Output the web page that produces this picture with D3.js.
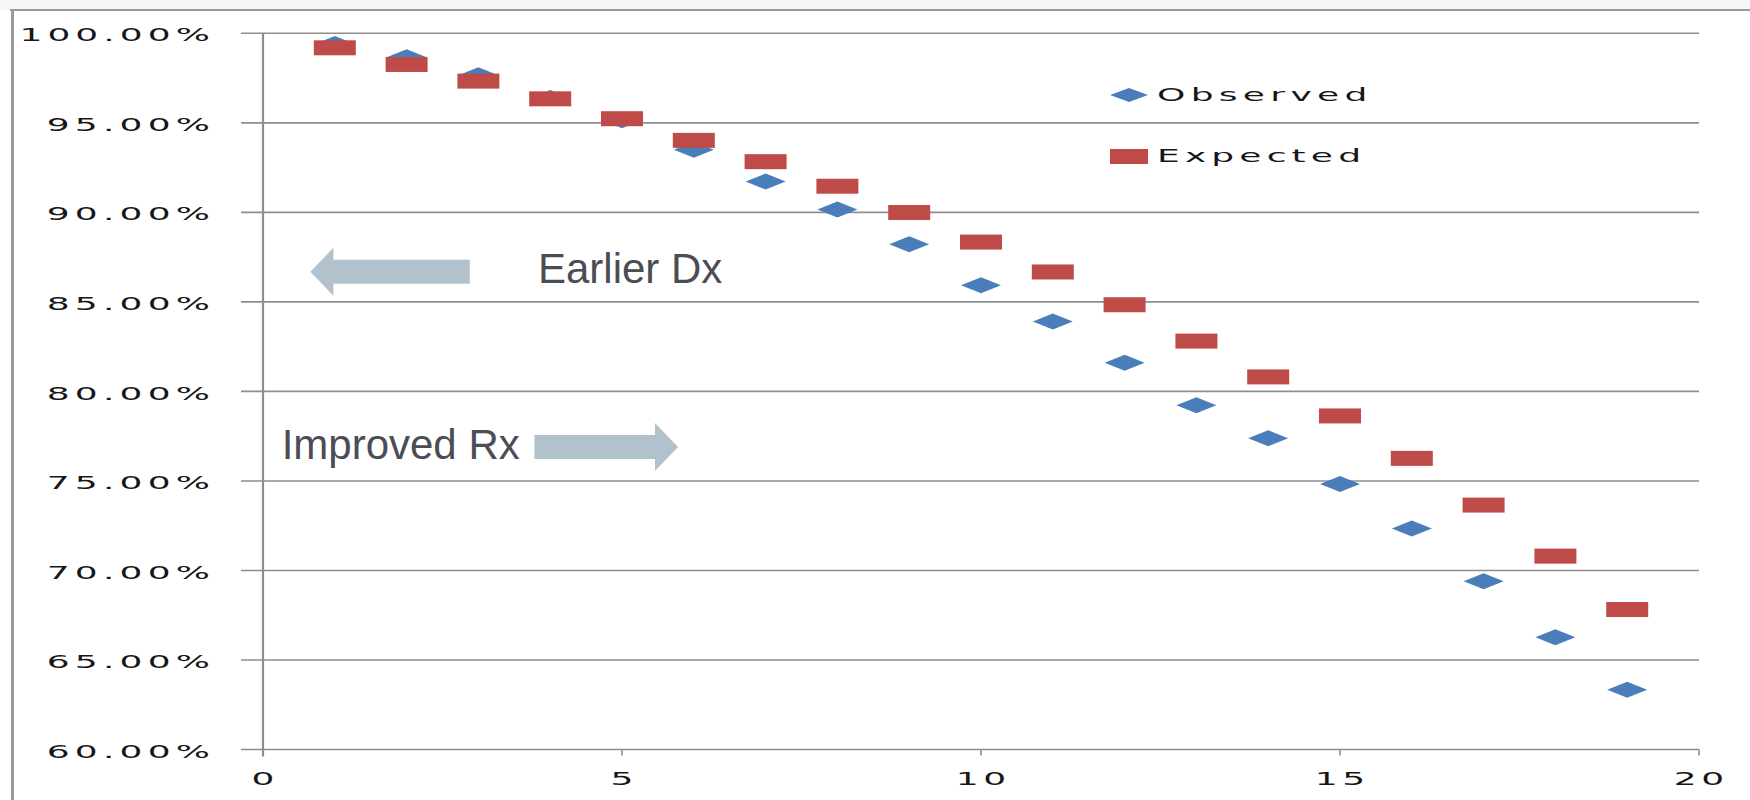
<!DOCTYPE html>
<html>
<head>
<meta charset="utf-8">
<script src="https://cdn.jsdelivr.net/npm/d3@7"></script>
<style>
  html, body { margin: 0; padding: 0; background: #fff; }
  svg { display: block; }
</style>
</head>
<body>
<div id="chart"></div>
<script>
// chart values
var xValues = [1, 2, 3, 4, 5, 6, 7, 8, 9, 10, 11, 12, 13, 14, 15, 16, 17, 18, 19];
var observed = [99.40, 98.66, 97.66, 96.39, 95.14, 93.50, 91.72, 90.16, 88.22, 85.93,
                83.91, 81.60, 79.22, 77.38, 74.83, 72.34, 69.40, 66.27, 63.34];
var expected = [99.19, 98.26, 97.33, 96.34, 95.23, 94.02, 92.83, 91.46, 89.99, 88.34,
                86.67, 84.84, 82.81, 80.81, 78.63, 76.26, 73.65, 70.80, 67.82];
var xTicks = [0, 5, 10, 15, 20];
var yTicks = [60, 65, 70, 75, 80, 85, 90, 95, 100];
var seriesNames = ["Observed", "Expected"];

// annotation arrows, in data units: [from x, to x, y]
var arrowNotes = [
    {from: 2.88, to: 0.66, y: 86.68},
    {from: 3.78, to: 5.78, y: 76.89}
];
var textNotes = [
    {text: "Earlier Dx", x: 3.83, y: 86.07},
    {text: "Improved Rx", x: 0.26, y: 76.24}
];

var width = 1750,
    height = 800,
    blue = "#4a7ebb",
    red = "#be4b48",
    gridColor = "#8e8e8e",
    labelFont = "'DejaVu Sans', Verdana, sans-serif",
    squeeze = 2.0;

var svg = d3.select("#chart").append("svg")
    .attr("width", width)
    .attr("height", height);

// outer frame
svg.append("rect")
    .attr("width", width)
    .attr("height", 10)
    .style("fill", "#f7f7f7");
svg.append("line")
    .attr("x1", 10).attr("x2", width)
    .attr("y1", 10).attr("y2", 10)
    .style("stroke", "#9a9a9a")
    .style("stroke-width", "2px");
svg.append("line")
    .attr("x1", 12.5).attr("x2", 12.5)
    .attr("y1", 10).attr("y2", height)
    .style("stroke", "#9a9a9a")
    .style("stroke-width", "3px");

var x = d3.scaleLinear()
    .domain([0, 20])
    .range([263, 1699]);

var y = d3.scaleLinear()
    .domain([60, 100])
    .range([749.5, 33.3]);

// stretch wide labels like the original spreadsheet text
function stretch(sel, ratio) {
    sel.each(function() {
        var len = this.getComputedTextLength();
        if (len > 0 && ratio > squeeze) {
            d3.select(this)
                .attr("textLength", len * ratio / squeeze)
                .attr("lengthAdjust", "spacing");
        }
    });
}

// horizontal grid lines
svg.append("g")
    .attr("class", "grid")
    .selectAll("line")
    .data(yTicks)
  .enter().append("line")
    .attr("x1", x(0) - 22)
    .attr("x2", x(20))
    .attr("y1", function(d) { return y(d); })
    .attr("y2", function(d) { return y(d); })
    .style("stroke", gridColor)
    .style("stroke-width", "1.6px");

// y axis line
svg.append("line")
    .attr("x1", x(0)).attr("x2", x(0))
    .attr("y1", y(100)).attr("y2", y(60) + 7)
    .style("stroke", gridColor)
    .style("stroke-width", "2.2px");

// x ticks
svg.append("g")
    .selectAll("line")
    .data(xTicks.slice(1))
  .enter().append("line")
    .attr("x1", function(d) { return x(d); })
    .attr("x2", function(d) { return x(d); })
    .attr("y1", y(60))
    .attr("y2", y(60) + 6)
    .style("stroke", gridColor)
    .style("stroke-width", "1.6px");

// y labels
var yLabels = svg.append("g")
    .selectAll("text")
    .data(yTicks)
  .enter().append("text")
    .attr("transform", function(d) { return "translate(210," + y(d) + ") scale(" + squeeze + ",1)"; })
    .attr("dy", ".45em")
    .attr("text-anchor", "end")
    .style("font-family", labelFont)
    .style("font-size", "18px")
    .style("fill", "#161616")
    .text(function(d) { return d3.format(".2f")(d) + "%"; });
stretch(yLabels, 2.38);

// x labels
var xLabels = svg.append("g")
    .selectAll("text")
    .data(xTicks)
  .enter().append("text")
    .attr("transform", function(d) { return "translate(" + x(d) + "," + (y(60) + 29) + ") scale(" + squeeze + ",1)"; })
    .attr("dy", ".35em")
    .attr("text-anchor", "middle")
    .style("font-family", labelFont)
    .style("font-size", "18px")
    .style("fill", "#161616")
    .text(function(d) { return d; });
stretch(xLabels, 2.2);

// arrows
var arrow = d3.line();
svg.append("g")
    .selectAll("path")
    .data(arrowNotes)
  .enter().append("path")
    .attr("d", function(d) {
        var x0 = x(d.from), x1 = x(d.to), cy = y(d.y),
            dir = x1 > x0 ? 1 : -1,
            xb = x1 - dir * 23;
        return arrow([[x0, cy - 12], [xb, cy - 12], [xb, cy - 24], [x1, cy],
                      [xb, cy + 24], [xb, cy + 12], [x0, cy + 12]]) + "Z";
    })
    .style("fill", "#b2c2cc");

svg.append("g")
    .selectAll("text")
    .data(textNotes)
  .enter().append("text")
    .attr("x", function(d) { return x(d.x); })
    .attr("y", function(d) { return y(d.y); })
    .style("font-family", "'Liberation Sans', Arial, sans-serif")
    .style("font-size", "42px")
    .style("fill", "#4b4c55")
    .text(function(d) { return d.text; });

// observed diamonds
var diamond = function(cx, cy, w, h) {
    return "M" + (cx - w / 2) + "," + cy + "L" + cx + "," + (cy - h / 2) +
           "L" + (cx + w / 2) + "," + cy + "L" + cx + "," + (cy + h / 2) + "Z";
};

svg.append("g")
    .attr("class", "observed")
    .selectAll("path")
    .data(observed)
  .enter().append("path")
    .attr("d", function(d, i) { return diamond(x(xValues[i]), y(d), 40, 16); })
    .style("fill", blue);

// expected squares, drawn on top
svg.append("g")
    .attr("class", "expected")
    .selectAll("rect")
    .data(expected)
  .enter().append("rect")
    .attr("x", function(d, i) { return x(xValues[i]) - 21; })
    .attr("y", function(d) { return y(d) - 7.5; })
    .attr("width", 42)
    .attr("height", 15)
    .style("fill", red);

// legend
var legend = svg.append("g")
    .attr("class", "legend");

legend.append("path")
    .attr("d", diamond(1129, 95, 38, 14))
    .style("fill", blue);
legend.append("rect")
    .attr("x", 1110).attr("y", 149)
    .attr("width", 38).attr("height", 15)
    .style("fill", red);

var legendText = legend.selectAll("text")
    .data(seriesNames)
  .enter().append("text")
    .attr("transform", function(d, i) { return "translate(1157," + (i ? 156 : 95) + ") scale(" + squeeze + ",1)"; })
    .attr("dy", ".36em")
    .style("font-family", labelFont)
    .style("font-size", "18px")
    .style("fill", "#161616")
    .text(function(d) { return d; });
stretch(legendText, 2.43);
</script>
</body>
</html>
